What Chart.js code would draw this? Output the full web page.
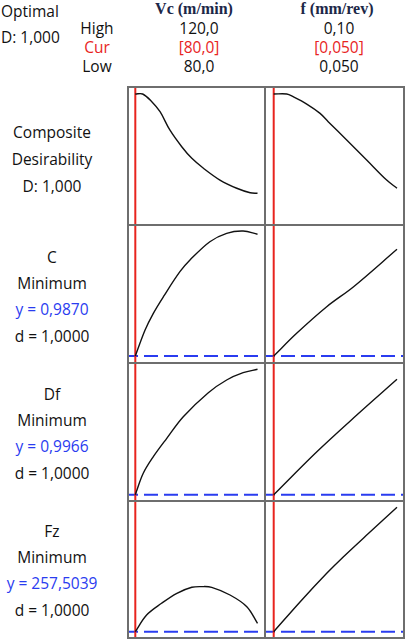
<!DOCTYPE html>
<html>
<head>
<meta charset="utf-8">
<script src="https://cdn.jsdelivr.net/npm/chart.js@4.4.1/dist/chart.umd.min.js"></script>
<style>
  html, body { margin:0; padding:0; background:#fff; }
  #wrap { position:relative; width:406px; height:640px; overflow:hidden; font-family:"Open Sans", sans-serif; font-size:15.5px; color:#111; }
  .t { position:absolute; white-space:nowrap; transform:translate(-50%,-50%); line-height:1; }
  .l { position:absolute; white-space:nowrap; transform:translate(0,-50%); line-height:1; }
  .hdr { font-family:"Liberation Serif", serif; font-weight:bold; font-size:16px; color:#1c2748; }
  .red { color:#e8241e; }
  .blue { color:#2a3cf0; }
  canvas.p { position:absolute; }
  .fr { position:absolute; background:#6e6e6e; z-index:5; }
</style>
</head>
<body>
<div id="wrap"></div>
<script>
// ---------- data ----------
const factors = ["Vc (m/min)", "f (mm/rev)"];
const highVals = ["120,0", "0,10"];
const curVals = ["[80,0]", "[0,050]"];
const lowVals = ["80,0", "0,050"];
const curX = [80, 0.05];

const responses = ["Composite Desirability", "C", "Df", "Fz"];
const goals = ["", "Minimum", "Minimum", "Minimum"];
const yCur = [1.0, 0.9870, 0.9966, 257.5039];
const yLabels = ["D: 1,000", "y = 0,9870", "y = 0,9966", "y = 257,5039"];
const dLabels = ["", "d = 1,0000", "d = 1,0000", "d = 1,0000"];

// Vc / f curves
const vcD_x  = [80, 82.4, 85.4, 88.1, 91.3, 95.2, 98.5, 102.3, 107.7, 113.2, 117.6, 120];
const vcD_y  = [1.0, 1.0, 0.938, 0.857, 0.710, 0.575, 0.481, 0.401, 0.306, 0.240, 0.204, 0.199];
const fD_x   = [0.05, 0.0553, 0.0579, 0.0634, 0.0688, 0.0721, 0.0796, 0.0877, 0.0958, 0.10];
const fD_y   = [1.0, 1.0, 0.978, 0.919, 0.844, 0.777, 0.629, 0.468, 0.306, 0.240];

const vcC_x  = [80, 83.2, 85.9, 89.2, 94.6, 97.9, 104.4, 109.9, 115.3, 120];
const vcC_y  = [0.987, 1.013, 1.0297, 1.0463, 1.0713, 1.083, 1.1013, 1.1097, 1.112, 1.1087];
const fC_x   = [0.05, 0.0593, 0.0715, 0.0824, 0.10];
const fC_y   = [0.987, 1.0097, 1.0363, 1.0563, 1.0937];

const vcDf_x = [80, 82.6, 85.9, 90.3, 95.7, 103.9, 109.9, 115.3, 120];
const vcDf_y = [0.9966, 1.018, 1.0346, 1.053, 1.0746, 1.0986, 1.1113, 1.1186, 1.122];
const fDf_x  = [0.05, 0.0675, 0.0837, 0.10];
const fDf_y  = [0.9966, 1.0396, 1.0763, 1.112];

const vcFz_x = [80, 83.7, 88.6, 93.6, 98.5, 101.7, 105, 111, 116.5, 120];
const vcFz_y = [257.5, 274.2, 285.9, 295.9, 301.9, 302.6, 301.9, 294.2, 282.5, 265.9];
const fFz_x  = [0.05, 0.0614, 0.0715, 0.0783, 0.0885, 0.10];
const fFz_y  = [257.5, 289.2, 315.9, 332.5, 355.9, 381.9];

const curves = [
  [[vcD_x, vcD_y], [fD_x, fD_y]],
  [[vcC_x, vcC_y], [fC_x, fC_y]],
  [[vcDf_x, vcDf_y], [fDf_x, fDf_y]],
  [[vcFz_x, vcFz_y], [fFz_x, fFz_y]]
];

// ---------- layout ----------
const colX = [128, 265, 404];
const rowY = [87, 225, 363, 501, 638];
const xRange = [[77.61, 122.45], [0.04647, 0.10284]];
const yRange = [[-0.0565, 1.0565], [0.980, 1.118], [0.9903, 1.1283], [251.2, 388.2]];

const wrap = document.getElementById('wrap');
function txt(s, x, y, cls, left) {
  const d = document.createElement('div');
  d.className = (left ? 'l ' : 't ') + (cls || '');
  d.textContent = s;
  d.style.left = x + 'px'; d.style.top = y + 'px';
  wrap.appendChild(d);
}

// header texts
txt("Optimal", 1, 12, '', true);
txt("D: 1,000", 1, 38, '', true);
txt("High", 97, 29);
txt("Cur", 97, 48, 'red');
txt("Low", 97, 67);
const colC = [199, 339];
const hdrC = [194, 337];
for (let i = 0; i < 2; i++) {
  txt(factors[i], hdrC[i], 9, 'hdr');
  txt(highVals[i], colC[i], 29);
  txt(curVals[i], colC[i], 48, 'red');
  txt(lowVals[i], colC[i], 67);
}

// row labels
txt("Composite", 52, 133);
txt("Desirability", 52, 160);
txt("D: 1,000", 52, 187);
const blockY = [0, 258, 395, 532];
for (let r = 1; r < 4; r++) {
  const y0 = blockY[r];
  txt(responses[r], 52, y0);
  txt(goals[r], 52, y0 + 26);
  txt(yLabels[r], 52, y0 + 52, 'blue');
  txt(dLabels[r], 52, y0 + 79);
}

// frame lines
for (const x of colX) {
  const d = document.createElement('div'); d.className = 'fr';
  d.style.left = (x - 1) + 'px'; d.style.top = (rowY[0] - 1) + 'px';
  d.style.width = '2px'; d.style.height = (rowY[4] - rowY[0] + 2) + 'px';
  wrap.appendChild(d);
}
for (const y of rowY) {
  const d = document.createElement('div'); d.className = 'fr';
  d.style.left = (colX[0] - 1) + 'px'; d.style.top = (y - 1) + 'px';
  d.style.height = '2px'; d.style.width = (colX[2] - colX[0] + 2) + 'px';
  wrap.appendChild(d);
}

// panels
for (let r = 0; r < 4; r++) {
  for (let c = 0; c < 2; c++) {
    const w = colX[c + 1] - colX[c], h = rowY[r + 1] - rowY[r];
    const holder = document.createElement('div');
    holder.style.position = 'absolute';
    holder.style.left = colX[c] + 'px'; holder.style.top = rowY[r] + 'px';
    holder.style.width = w + 'px'; holder.style.height = h + 'px';
    wrap.appendChild(holder);
    const cv = document.createElement('canvas');
    cv.className = 'p';
    cv.style.left = '0px'; cv.style.top = '0px';
    cv.style.width = w + 'px'; cv.style.height = h + 'px';
    cv.width = w; cv.height = h;
    holder.appendChild(cv);

    const [xs, ys] = curves[r][c];
    const datasets = [{
      data: xs.map((x, i) => ({ x: x, y: ys[i] })),
      borderColor: '#111', borderWidth: 1.4, pointRadius: 0,
      showLine: true, tension: 0.35, fill: false, order: 1
    }];
    if (r > 0) {
      datasets.push({
        data: [{ x: xRange[c][0], y: yCur[r] }, { x: xRange[c][1], y: yCur[r] }],
        borderColor: '#2a3cf0', borderWidth: 2, borderDash: [14, 6], borderDashOffset: 4,
        pointRadius: 0, showLine: true, order: 3
      });
    }
    datasets.push({
      data: [{ x: curX[c], y: yRange[r][0] }, { x: curX[c], y: yRange[r][1] }],
      borderColor: '#e8241e', borderWidth: 2, pointRadius: 0, showLine: true, order: 2
    });

    new Chart(cv, {
      type: 'scatter',
      data: { datasets: datasets },
      options: {
        responsive: false, animation: false, devicePixelRatio: 1,
        layout: { padding: 0 },
        plugins: { legend: { display: false }, tooltip: { enabled: false } },
        scales: {
          x: { type: 'linear', display: false, min: xRange[c][0], max: xRange[c][1] },
          y: { type: 'linear', display: false, min: yRange[r][0], max: yRange[r][1] }
        }
      }
    });
  }
}
</script>
</body>
</html>
